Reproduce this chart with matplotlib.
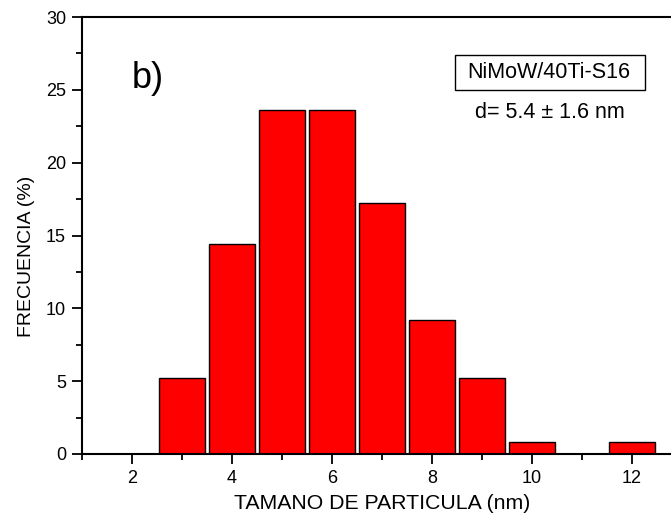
import matplotlib
matplotlib.use("Agg")
import matplotlib.pyplot as plt
from matplotlib.ticker import MultipleLocator
from matplotlib.patches import Rectangle

plt.rcParams['font.family'] = ['Liberation Sans', 'DejaVu Sans']

sizes = [3, 4, 5, 6, 7, 8, 9, 10, 12]
freq = [5.2, 14.4, 23.6, 23.6, 17.2, 9.2, 5.2, 0.8, 0.8]
xticks = [2, 4, 6, 8, 10, 12]
yticks = [0, 5, 10, 15, 20, 25, 30]

fig = plt.figure(figsize=(6.71, 5.24), dpi=100)
ax = fig.add_axes([82/671, 1-454/524, 600/671, 437/524])
ax.bar(sizes, freq, width=0.92, color='#ff0000', edgecolor='black', linewidth=1.0)

ax.set_xlim(1, 13)
ax.set_ylim(0, 30)
ax.set_xticks(xticks)
ax.set_yticks(yticks)
ax.xaxis.set_minor_locator(MultipleLocator(1))
ax.yaxis.set_minor_locator(MultipleLocator(2.5))
ax.tick_params(which='major', direction='out', length=7, width=1.3, labelsize=13, pad=4.5)
ax.tick_params(which='minor', direction='out', length=4, width=1.3)
for s in ['left', 'bottom', 'top']:
    ax.spines[s].set_linewidth(1.5)
ax.spines['right'].set_visible(False)

ax.set_xlabel('TAMANO DE PARTICULA (nm)', fontsize=15.3)
ax.set_ylabel('FRECUENCIA (%)', fontsize=14)
ax.xaxis.set_label_coords(0.5, -0.091)
ax.yaxis.set_label_coords(-0.078, 0.453)

ax.text(2.0, 25.8, 'b)', fontsize=26, ha='left', va='center')
ax.add_patch(Rectangle((8.46, 25.0), 3.8, 2.39, facecolor='white',
                       edgecolor='black', linewidth=1.0, zorder=3))
ax.text(10.33, 26.19, 'NiMoW/40Ti-S16', fontsize=15.5, ha='center', va='center', zorder=4)
ax.text(10.35, 23.41, 'd= 5.4 ± 1.6 nm', fontsize=15.5, ha='center', va='center')

fig.savefig('out.png', dpi=100)
